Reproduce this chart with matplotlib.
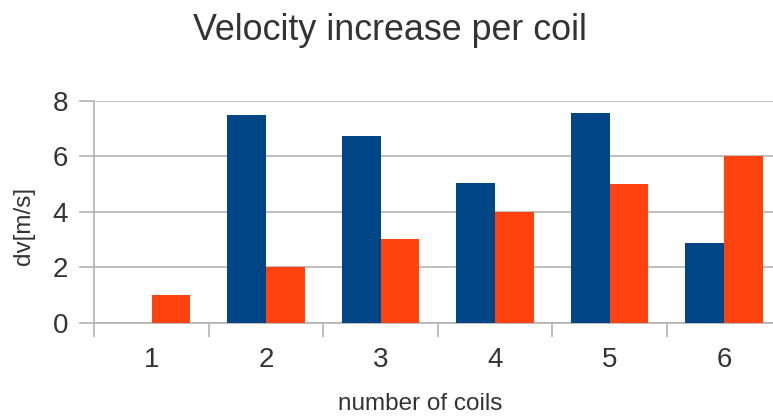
import matplotlib
matplotlib.use("Agg")
import matplotlib.pyplot as plt
import numpy as np

plt.rcParams['font.family'] = ['Liberation Sans', 'DejaVu Sans']

categories = ["1", "2", "3", "4", "5", "6"]
series_blue = [0, 7.5, 6.73, 5.03, 7.56, 2.87]
series_orange = [1, 2, 3, 4, 5, 6]
yticks = [0, 2, 4, 6, 8]

W, H = 773, 417
fig = plt.figure(figsize=(W / 100, H / 100), dpi=100)
ax_l, ax_r, ax_t, ax_b = 94.3, 781.3, 100.7, 322.7
ax = fig.add_axes([ax_l / W, 1 - ax_b / H, (ax_r - ax_l) / W, (ax_b - ax_t) / H])

x = np.arange(len(categories))
bw = 0.34
ax.bar(x - bw / 2, series_blue, width=bw, color="#004586", zorder=3)
ax.bar(x + bw / 2, series_orange, width=bw, color="#ff420e", zorder=3)

ax.set_xlim(-0.5, len(categories) - 0.5)
ax.set_ylim(0, 8)

grid_c = "#b3b3b3"
text_c = "#333333"
ax.set_yticks(yticks)
ax.set_yticklabels([str(v) for v in yticks])
ax.yaxis.grid(True, color=grid_c, linewidth=1.2, zorder=0)
ax.set_axisbelow(True)

ax.set_xticks(x)
ax.set_xticklabels(categories)
ax.set_xticks(np.arange(len(categories) + 1) - 0.5, minor=True)
ax.tick_params(axis='x', which='major', length=0, pad=17.5, labelsize=20, labelcolor=text_c)
ax.tick_params(axis='x', which='minor', length=10, width=1.2, color=grid_c)
ax.tick_params(axis='y', which='major', length=11, width=1.2, color=grid_c, pad=8, labelsize=20, labelcolor=text_c)

for s in ["top", "right"]:
    ax.spines[s].set_visible(False)
for s in ["left", "bottom"]:
    ax.spines[s].set_color(grid_c)
    ax.spines[s].set_linewidth(1.2)

ax.set_xlabel("number of coils", fontsize=17.5, color=text_c)
ax.set_ylabel("dv[m/s]", fontsize=17.5, color=text_c)
ax.xaxis.set_label_coords((420 - ax_l) / (ax_r - ax_l), (ax_b - 404) / (ax_b - ax_t))
ax.xaxis.label.set_verticalalignment('center')
ax.yaxis.set_label_coords((24 - ax_l) / (ax_r - ax_l), (ax_b - 226) / (ax_b - ax_t))
ax.yaxis.label.set_verticalalignment('center')

fig.text(390 / W, 1 - 30 / H, "Velocity increase per coil", ha="center", va="center",
         fontsize=25.8, color=text_c)

fig.savefig("out.png", dpi=100)
